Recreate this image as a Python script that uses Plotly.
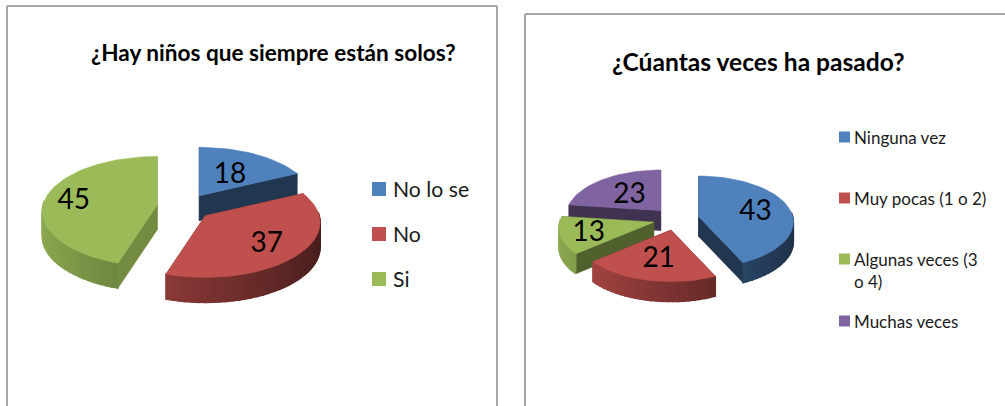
import math
import plotly.graph_objects as go

# chart data
left_title = "¿Hay niños que siempre están solos?"
left_categories = ["No lo se", "No", "Si"]
left_values = [18, 37, 45]

right_title = "¿Cúantas veces ha pasado?"
right_categories = ["Ninguna vez", "Muy pocas (1 o 2)", "Algunas veces (3<br>o 4)", "Muchas veces"]
right_values = [43, 21, 13, 23]

BLUE, RED, GREEN, PURPLE = "#4f81bd", "#c0504d", "#9bbb59", "#8064a2"
FONT = "Lato"


def scale(color, k):
    r, g, b = (int(color[i:i + 2], 16) for i in (1, 3, 5))
    return f"rgb({int(r * k)},{int(g * k)},{int(b * k)})"


def project(center, rx, ry, theta, radius=1.0):
    # clockwise from 12 o'clock, front of the disc is drawn a bit larger
    u, v = math.sin(theta), math.cos(theta)
    f = 1 - 0.12 * v
    return center[0] + radius * rx * u * f, center[1] - radius * ry * v * f


def polygon(fig, pts, color, width=0.6):
    fig.add_trace(go.Scatter(
        x=[p[0] for p in pts] + [pts[0][0]],
        y=[p[1] for p in pts] + [pts[0][1]],
        mode="lines", fill="toself", fillcolor=color,
        line=dict(color=color, width=width),
        hoverinfo="skip", showlegend=False,
    ))


def add_pie(fig, values, colors, center, rx, ry, pull, depth, side_shades, reach, order):
    total = sum(values)
    starts = [sum(values[:i]) / total * 2 * math.pi for i in range(len(values))]
    labels = []
    for i in order:
        a0 = starts[i]
        a1 = a0 + values[i] / total * 2 * math.pi
        mid = (a0 + a1) / 2
        apex = (center[0] + pull * rx * math.sin(mid), center[1] - pull * ry * math.cos(mid))
        steps = max(2, int(math.degrees(a1 - a0) / 3))
        angles = [a0 + (a1 - a0) * s / steps for s in range(steps + 1)]
        arc = [project(apex, rx, ry, a) for a in angles]
        color = colors[i]

        # flat cut faces
        for p in (arc[0], arc[-1]):
            polygon(fig, [apex, p, (p[0], p[1] + depth), (apex[0], apex[1] + depth)],
                    scale(color, side_shades[i]))
        # rounded wall, shaded from left to right
        for s in range(steps):
            am = (angles[s] + angles[s + 1]) / 2
            if math.cos(am) < 0.08:
                p, q = arc[s], arc[s + 1]
                polygon(fig, [p, q, (q[0], q[1] + depth), (p[0], p[1] + depth)],
                        scale(color, 0.64 - 0.26 * math.sin(am)), width=1.5)
        polygon(fig, [apex] + arc, color)

        lx = apex[0] + reach[i] * rx * math.sin(mid)
        ly = apex[1] - reach[i] * ry * math.cos(mid) + 3
        labels.append((lx, ly, values[i]))
    fig.add_trace(go.Scatter(
        x=[l[0] for l in labels], y=[l[1] for l in labels],
        text=[str(l[2]) for l in labels],
        mode="text", textposition="middle center",
        textfont=dict(family=FONT, size=28, color="#000000"),
        hoverinfo="skip", showlegend=False,
    ))


def add_legend(fig, names, colors, x, ys, box, size, gap):
    fig.add_trace(go.Scatter(
        x=[x] * len(names), y=ys, mode="markers",
        marker=dict(symbol="square", size=box, color=colors, line=dict(width=0)),
        hoverinfo="skip", showlegend=False,
    ))
    for name, y in zip(names, ys):
        fig.add_annotation(
            x=x + box / 2 + gap, y=y - size * 0.72, text=name, showarrow=False,
            xanchor="left", yanchor="top", align="left",
            font=dict(family=FONT, size=size, color="#1a1a1a"),
        )


fig = go.Figure()

# chart frames run off the bottom and right of the picture
frame = dict(color="#a6a6a6", width=2)
fig.add_shape(type="line", x0=7, x1=7, y0=6, y1=406, line=frame)
fig.add_shape(type="line", x0=7, x1=497, y0=6, y1=6, line=frame)
fig.add_shape(type="line", x0=497, x1=497, y0=6, y1=406, line=frame)
fig.add_shape(type="line", x0=525, x1=525, y0=14, y1=406, line=frame)
fig.add_shape(type="line", x0=525, x1=1005, y0=14, y1=14, line=frame)

add_pie(fig, left_values, [BLUE, RED, GREEN], (184.5, 207), 114, 55, 0.243, 25,
        [0.42, 0.6, 0.75], [0.5, 0.72, 0.74], [0, 2, 1])
add_pie(fig, right_values, [BLUE, RED, GREEN, PURPLE], (676, 219), 94, 46, 0.247, 20,
        [0.42, 0.6, 0.52, 0.5], [0.62, 0.6, 0.72, 0.5], [3, 2, 1, 0])

add_legend(fig, left_categories, [BLUE, RED, GREEN], 379, [189, 234, 279], 14, 21.2, 5)
add_legend(fig, right_categories, [BLUE, RED, GREEN, PURPLE], 844.5, [137, 198, 259, 321], 11, 17, 2)

fig.add_annotation(x=273, y=52, text=f"<b>{left_title}</b>", showarrow=False,
                   font=dict(family=FONT, size=22.6, color="#000000"))
fig.add_annotation(x=758, y=61, text=f"<b>{right_title}</b>", showarrow=False,
                   font=dict(family=FONT, size=24.6, color="#000000"))

fig.update_layout(
    width=1005, height=406,
    margin=dict(l=0, r=0, t=0, b=0),
    paper_bgcolor="white", plot_bgcolor="white",
    showlegend=False,
    xaxis=dict(range=[0, 1005], visible=False, fixedrange=True),
    yaxis=dict(range=[406, 0], visible=False, fixedrange=True),
)

fig.write_html("out.html", config={"displayModeBar": False},
               post_script="document.body.style.margin='0';")
